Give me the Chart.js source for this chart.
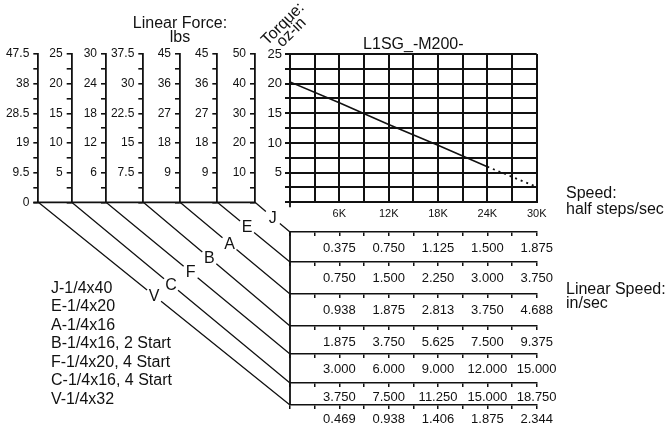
<!DOCTYPE html>
<html>
<head>
<meta charset="utf-8">
<script src="https://cdn.jsdelivr.net/npm/chart.js@4.4.1/dist/chart.umd.min.js"></script>
<style>
  html, body { margin: 0; padding: 0; background: #fff; }
  #wrap { width: 670px; height: 430px; }
</style>
</head>
<body>
<div id="wrap"><canvas id="torqueChart" width="670" height="430"></canvas></div>
<script>
// torque curve (oz-in vs half steps/sec)
const speedSolid = [0, 6000, 12000, 18000, 24000];
const torqueSolid = [20.3, 16.8, 13.1, 9.6, 6.0];
const speedDashed = [24000, 27000, 30000];
const torqueDashed = [6.0, 4.3, 2.6];

// torque axis labels
const torqueTicks = [0, 5, 10, 15, 20, 25];

// linear force axes (lbs), left to right
const screwLetters = ["V", "C", "F", "B", "A", "E", "J"];
const forceV = [0, 9.5, 19, 28.5, 38, 47.5];
const forceC = [0, 5, 10, 15, 20, 25];
const forceF = [0, 6, 12, 18, 24, 30];
const forceB = [0, 7.5, 15, 22.5, 30, 37.5];
const forceA = [0, 9, 18, 27, 36, 45];
const forceE = [0, 9, 18, 27, 36, 45];
const forceJ = [0, 10, 20, 30, 40, 50];

// speed axis labels
const speedTicks = ["6K", "12K", "18K", "24K", "30K"];

// linear speed table (in/sec), top row to bottom row
const rowLetters = ["J", "E", "A", "B", "F", "C", "V"];
const linJ = [0.375, 0.750, 1.125, 1.500, 1.875];
const linE = [0.750, 1.500, 2.250, 3.000, 3.750];
const linA = [0.938, 1.875, 2.813, 3.750, 4.688];
const linB = [1.875, 3.750, 5.625, 7.500, 9.375];
const linF = [3.000, 6.000, 9.000, 12.000, 15.000];
const linC = [3.750, 7.500, 11.250, 15.000, 18.750];
const linV = [0.469, 0.938, 1.406, 1.875, 2.344];

const screwNames = [
    "J-1/4x40",
    "E-1/4x20",
    "A-1/4x16",
    "B-1/4x16, 2 Start",
    "F-1/4x20, 4 Start",
    "C-1/4x16, 4 Start",
    "V-1/4x32"
];

const forceData = { V: forceV, C: forceC, F: forceF, B: forceB, A: forceA, E: forceE, J: forceJ };
const linData = { J: linJ, E: linE, A: linA, B: linB, F: linF, C: linC, V: linV };

// layout only
const INK = "#111";
const forceWidth = { V: 38.3, C: 33.4, F: 34.3, B: 37.3, A: 36.7, E: 37.3, J: 37.7 };
const rowHeight = { J: 30, E: 32, A: 32, B: 28, F: 29, C: 22, V: 25 };
const rowPad = { J: 5, E: 5, A: 5, B: 5, F: 4, C: 3, V: 3 };
const letterAt = { V: 0.46, C: 0.455, F: 0.46, B: 0.45, A: 0.45, E: 0.41, J: 0.51 };

// narrow font for the numbers if we have it
function hasFont(name) {
    const c = document.createElement("canvas").getContext("2d");
    c.font = "40px monospace";
    const a = c.measureText("0.375 47.5 12K").width;
    c.font = "40px \"" + name + "\", monospace";
    return c.measureText("0.375 47.5 12K").width !== a;
}
const NARROW = hasFont("Liberation Sans Narrow");
const numFamily = NARROW ? "\"Liberation Sans Narrow\", \"Liberation Sans\", Arial" : "\"Liberation Sans\", Arial";
const numSize = NARROW ? 14 : 12;
const SANS = "\"Liberation Sans\", Arial, sans-serif";

function buildScales() {
    let scales = {
        x: {
            type: "linear", position: "bottom", weight: 0,
            min: 0, max: 30000,
            afterFit: s => { s.height = 29.7; },
            grid: { color: INK, lineWidth: 2, drawTicks: false },
            border: { display: true, color: INK, width: 2 },
            ticks: {
                stepSize: 3000, autoSkip: false, maxRotation: 0, padding: 5,
                color: INK, font: { family: numFamily, size: numSize - 1 },
                callback: (v, i) => (i % 2 === 0 && i > 0) ? speedTicks[i / 2 - 1] : ""
            }
        },
        y: {
            type: "linear", position: "left", weight: 0,
            min: 0, max: 25,
            afterFit: s => { s.width = 35; },
            grid: { color: INK, lineWidth: 2, tickLength: 5 },
            border: { display: true, color: INK, width: 2 },
            ticks: {
                stepSize: 2.5, autoSkip: false, padding: 3,
                color: INK, font: { family: numFamily, size: numSize + 1 },
                callback: (v, i) => (i % 2 === 0 && i > 0) ? String(torqueTicks[i / 2]) : ""
            }
        }
    };

    screwLetters.forEach((L, k) => {
        scales["f" + L] = {
            type: "linear", position: "left", weight: 7 - k,
            min: 0, max: 25,
            afterFit: s => { s.width = forceWidth[L]; },
            grid: { drawOnChartArea: false, color: INK, lineWidth: 1.6, tickLength: 5 },
            border: { display: true, color: INK, width: 1.8 },
            ticks: {
                stepSize: 2.5, autoSkip: false, padding: 4,
                color: INK, font: { family: numFamily, size: numSize },
                callback: (v, i) => {
                    if (i % 2 !== 0) return "";
                    if (i === 0 && L !== "V") return "";
                    return String(forceData[L][i / 2]);
                }
            }
        };
    });

    rowLetters.forEach((L, k) => {
        scales["r" + L] = {
            type: "linear", position: "bottom", weight: k + 1,
            min: 0, max: 30000,
            afterFit: s => { s.height = rowHeight[L]; },
            grid: { drawOnChartArea: false, color: INK, lineWidth: 1.5, tickLength: 4 },
            border: { display: true, color: INK, width: 1.5 },
            ticks: {
                stepSize: 3000, autoSkip: false, maxRotation: 0, padding: rowPad[L],
                color: INK, font: { family: numFamily, size: numSize + 1 },
                callback: (v, i) => (i % 2 === 0 && i > 0) ? linData[L][i / 2 - 1].toFixed(3) : ""
            }
        };
    });

    return scales;
}

// axis captions, connector lines and legend text
const sketchPlugin = {
    id: "sketch",
    afterDraw(chart) {
        const ctx = chart.ctx;
        const area = chart.chartArea;
        const s = chart.scales;
        ctx.save();
        ctx.strokeStyle = INK;
        ctx.fillStyle = INK;

        // zero line under the force axes + left edge of the table
        ctx.lineWidth = 1.8;
        ctx.beginPath();
        ctx.moveTo(s.fV.right - 5, area.bottom);
        ctx.lineTo(s.fJ.right, area.bottom);
        ctx.moveTo(area.left, s.rJ.top);
        ctx.lineTo(area.left, s.rV.top);
        ctx.moveTo(area.left, area.bottom);
        ctx.lineTo(area.left, area.bottom + 5);
        ctx.stroke();

        // diagonals from each force axis to its speed row
        ctx.lineWidth = 1.3;
        ctx.font = "16px " + SANS;
        ctx.textAlign = "center";
        ctx.textBaseline = "middle";
        screwLetters.forEach(L => {
            const x0 = s["f" + L].right, y0 = area.bottom;
            const x1 = area.left, y1 = s["r" + L].top;
            const t = letterAt[L];
            const px = x0 + (x1 - x0) * t, py = y0 + (y1 - y0) * t;
            const k = (y1 - y0) / (x1 - x0);
            const g = 7;
            ctx.beginPath();
            ctx.moveTo(x0, y0);
            ctx.lineTo(px - g, py - g * k);
            ctx.moveTo(px + g, py + g * k);
            ctx.lineTo(x1, y1);
            ctx.stroke();
            ctx.fillText(L, px, py + 1);
        });

        ctx.textBaseline = "alphabetic";
        ctx.font = "16px " + SANS;
        ctx.fillText("Linear Force:", 180, 28);
        ctx.fillText("lbs", 180, 42);
        ctx.fillText("L1SG_-M200-", (area.left + area.right) / 2, 49);

        ctx.textAlign = "left";
        ctx.fillText("Speed:", 566, 198);
        ctx.fillText("half steps/sec", 566, 214);
        ctx.fillText("Linear Speed:", 566, 294);
        ctx.fillText("in/sec", 566, 308);

        screwNames.forEach((name, i) => {
            ctx.fillText(name, 51, 292.7 + i * 18.5);
        });

        ctx.translate(283, 24);
        ctx.rotate(-Math.PI / 4);
        ctx.textAlign = "center";
        ctx.textBaseline = "middle";
        ctx.fillText("Torque:", 0, 0);
        ctx.fillText("oz-in", 0, 12);
        ctx.restore();
    }
};

window.addEventListener("load", function () {
    const ctx = document.getElementById("torqueChart").getContext("2d");
    new Chart(ctx, {
        type: "line",
        data: {
            datasets: [
                {
                    label: "Torque",
                    data: speedSolid.map((v, i) => ({ x: v, y: torqueSolid[i] })),
                    borderColor: INK, borderWidth: 1.6,
                    pointRadius: 0, tension: 0
                },
                {
                    label: "Torque (extrapolated)",
                    data: speedDashed.map((v, i) => ({ x: v, y: torqueDashed[i] })),
                    borderColor: INK, borderWidth: 1.8, borderDash: [2, 4],
                    pointRadius: 0, tension: 0
                }
            ]
        },
        options: {
            responsive: false,
            animation: false,
            layout: { padding: { top: 54, right: 133.3, bottom: 0, left: 0 } },
            plugins: { legend: { display: false }, tooltip: { enabled: false } },
            scales: buildScales()
        },
        plugins: [sketchPlugin]
    });
});
</script>
</body>
</html>
